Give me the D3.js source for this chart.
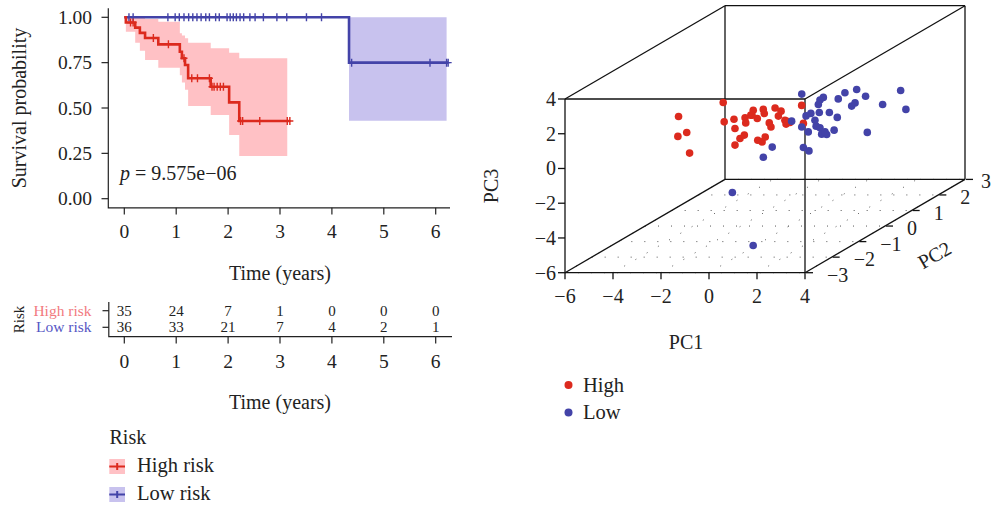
<!DOCTYPE html>
<html lang="en">
<head>
<meta charset="UTF-8">
<title>Survival and PCA</title>
<script src="https://d3js.org/d3.v7.min.js"></script>
<style>
  body { margin: 0; background: #fff; }
  svg { font-family: "Liberation Serif", "DejaVu Serif", serif; fill: #222; }
  .ax { stroke: #222; stroke-width: 1.2px; fill: none; }
  .box { stroke: #111; stroke-width: 1.3px; fill: none; }
  .grid { stroke: #444; stroke-width: 0.9px; stroke-dasharray: 1 12; fill: none; }
</style>
</head>
<body>
<svg width="993" height="506"></svg>
<script>
// ---- Kaplan-Meier data ----
const highTimes = [0, 0.03, 0.21, 0.30, 0.40, 0.655, 1.07, 1.11, 1.17, 1.23, 1.665, 2.02, 2.215];
const highSurv  = [1, 0.971, 0.943, 0.914, 0.886, 0.851, 0.81, 0.774, 0.737, 0.664, 0.617, 0.531, 0.428];
const highUpper = [1, 1, 1, 1, 0.99, 0.975, 0.912, 0.90, 0.885, 0.86, 0.83, 0.805, 0.774];
const highLower = [1, 0.92, 0.86, 0.816, 0.765, 0.722, 0.68, 0.64, 0.60, 0.511, 0.461, 0.351, 0.235];
const highEnd = 3.19, highCiEnd = 3.14;
const highCensor = [0.12, 0.17, 0.56, 0.85, 1.15, 1.30, 1.41, 1.64, 1.69, 1.73, 1.79, 1.85, 1.91, 2.24, 2.28, 2.61, 3.14, 3.19];

const lowTimes = [0, 4.33];
const lowSurv  = [1, 0.75];
const lowUpper = [1, 1];
const lowLower = [1, 0.43];
const lowEnd = 6.24, lowCiEnd = 6.21;
const lowCensor = [0.09, 0.17, 0.84, 0.98, 1.06, 1.15, 1.24, 1.32, 1.40, 1.48, 1.57, 1.64, 1.76, 1.83, 1.98,
  2.04, 2.10, 2.16, 2.23, 2.30, 2.42, 2.52, 2.68, 2.94, 3.13, 3.51, 3.80, 4.38, 5.89, 6.21, 6.24];

const pValue = "9.575e\u221206";
const timeTicks = [0, 1, 2, 3, 4, 5, 6];
const survTicks = [0, 0.25, 0.5, 0.75, 1];
const riskHigh = [35, 24, 7, 1, 0, 0, 0];
const riskLow  = [36, 33, 21, 7, 4, 2, 1];

// ---- PCA data ----
const highPC1 = [-2.38,-3.15,-4.63,-1.92,-1.63,-2.70,-0.07,-1.14,-2.25,0.18,-0.75,-1.83,0.42,-0.48,-1.49,0.90,0.04,
  -1.03,0.92,-0.01,-0.99,1.40,0.36,-0.58,1.78,0.78,-0.17,2.10,1.64,0.60,2.26,-1.54,1.03];
const highPC2 = [-2,-1,0,-2,-1,0,-2,-1,0,-2,-1,0,-2,-1,0,-2,-1,0,-2,-1,0,-2,-1,0,-2,-1,0,-2,-1,0,-2,0,-1];
const highPC3 = [2.10,0.28,-0.84,-0.01,2.01,0.00,1.94,0.51,-1.34,0.83,0.13,0.23,1.73,1.28,0.67,1.98,1.61,
  0.48,0.73,-0.26,-0.87,1.73,0.60,0.80,2.12,1.51,0.09,1.66,1.84,-0.09,1.75,0.38,0.93];
const lowPC1 = [-0.58,0.11,-1.81,-1.07,-2.36,0.73,-0.58,0.60,-0.28,-1.42,0.71,-0.20,-1.00,1.29,0.32,-0.96,1.13,
  0.18,-0.86,1.57,0.39,-0.54,1.88,0.90,-0.17,2.33,1.50,0.53,2.82,2.08,1.04,2.79,2.43,3.76,-0.03];
const lowPC2 = [1,0,1,0,0,-2,1,0,1,2,0,1,2,0,1,2,0,1,2,0,1,2,0,1,2,0,1,2,0,1,2,1,2,1,1];
const lowPC3 = [0.70,0.04,-2.35,-2.04,-4.07,-5.33,-1.19,-1.48,-2.57,-2.37,0.34,-0.41,-0.79,1.25,0.51,-1.25,-0.25,
  -1.24,-2.50,-0.73,-1.47,-1.25,-0.48,-0.64,-0.47,1.67,0.01,-0.70,1.86,0.58,-2.40,0.10,0.01,-0.18,-0.80];
const pc1Ticks = [-6, -4, -2, 0, 2, 4];
const pc2Ticks = [-3, -2, -1, 0, 1, 2, 3];
const pc3Ticks = [-6, -4, -2, 0, 2, 4];

const redLine = "#dc2a1e", redFill = "#ffc1c5", redText = "#f27a80";
const blueLine = "#4343a8", blueFill = "#c8c2ee", blueText = "#5656c4";
const minus = s => String(s).replace("-", "\u2212");

const svg = d3.select("svg");

// ================= KM plot =================
const x = d3.scaleLinear().domain([0, 6]).range([124.3, 435.7]);
const y = d3.scaleLinear().domain([0, 1]).range([198.7, 17.3]);
const km = svg.append("g");

function steps(times, vals, end) {
  const pts = times.map((t, i) => [t, vals[i]]);
  pts.push([end, vals[vals.length - 1]]);
  return pts;
}
const area = d3.area().curve(d3.curveStepAfter)
  .x(d => x(d.t)).y0(d => y(d.lo)).y1(d => y(d.hi));
const line = d3.line().curve(d3.curveStepAfter).x(d => x(d[0])).y(d => y(d[1]));

function band(times, lo, hi, end) {
  const arr = times.map((t, i) => ({t, lo: lo[i], hi: hi[i]}));
  arr.push({t: end, lo: lo[lo.length - 1], hi: hi[hi.length - 1]});
  return arr;
}
km.append("path").attr("d", area(band(highTimes, highLower, highUpper, highCiEnd))).attr("fill", redFill);
km.append("path").attr("d", area(band(lowTimes, lowLower, lowUpper, lowCiEnd))).attr("fill", blueFill);

function survAt(times, vals, t) {
  let v = vals[0];
  times.forEach((tt, i) => { if (tt <= t) v = vals[i]; });
  return v;
}
function drawCurve(times, vals, end, censor, col) {
  km.append("path").attr("d", line(steps(times, vals, end)))
    .attr("fill", "none").attr("stroke", col).attr("stroke-width", 2.6);
  km.append("g").selectAll("path").data(censor).join("path")
    .attr("d", t => {
      const cx = x(t), cy = y(survAt(times, vals, t));
      return `M${cx - 3.5},${cy}H${cx + 3.5}M${cx},${cy - 4}V${cy + 4}`;
    })
    .attr("stroke", col).attr("stroke-width", 1.4);
}
drawCurve(lowTimes, lowSurv, lowEnd, lowCensor, blueLine);
drawCurve(highTimes, highSurv, highEnd, highCensor, redLine);

// axes
km.append("path").attr("class", "ax").attr("d", `M108.3,8.2V207.8H450`);
km.append("g").selectAll("line").data(survTicks).join("line").attr("class", "ax")
  .attr("x1", 101.5).attr("x2", 108.3).attr("y1", d => y(d)).attr("y2", d => y(d));
km.append("g").selectAll("text").data(survTicks).join("text")
  .attr("x", 92).attr("y", d => y(d) + 6.5).attr("text-anchor", "end")
  .attr("font-size", 19.5).text(d => d.toFixed(2));
km.append("g").selectAll("line").data(timeTicks).join("line").attr("class", "ax")
  .attr("x1", d => x(d)).attr("x2", d => x(d)).attr("y1", 207.8).attr("y2", 214.6);
km.append("g").selectAll("text").data(timeTicks).join("text")
  .attr("x", d => x(d)).attr("y", 237.5).attr("text-anchor", "middle")
  .attr("font-size", 19.5).text(d => d);
km.append("text").attr("x", x(3)).attr("y", 280).attr("text-anchor", "middle")
  .attr("font-size", 20).text("Time (years)");
km.append("text").attr("transform", "translate(26,108) rotate(-90)").attr("text-anchor", "middle")
  .attr("font-size", 20).text("Survival probability");
const pt = km.append("text").attr("x", 120).attr("y", 180).attr("font-size", 20);
pt.append("tspan").attr("font-style", "italic").text("p");
pt.append("tspan").text(" = " + pValue);

// ---- risk table ----
const rowY = [310.7, 327.3];
const rt = svg.append("g");
rt.append("path").attr("class", "ax").attr("d", `M108.8,302V336.7H452`);
rt.append("g").selectAll("line").data(rowY).join("line").attr("class", "ax")
  .attr("x1", 102.5).attr("x2", 108.8).attr("y1", d => d).attr("y2", d => d);
[[riskHigh, "High risk", redText], [riskLow, "Low risk", blueText]].forEach(([vals, lab, col], r) => {
  rt.append("g").selectAll("text").data(vals).join("text")
    .attr("x", (d, i) => x(timeTicks[i])).attr("y", rowY[r] + 5).attr("text-anchor", "middle")
    .attr("font-size", 15).text(d => d);
  rt.append("text").attr("x", 91.5).attr("y", rowY[r] + 5).attr("text-anchor", "end")
    .attr("font-size", 15.5).attr("fill", col).text(lab);
});
rt.append("text").attr("transform", "translate(24,319.5) rotate(-90)").attr("text-anchor", "middle")
  .attr("font-size", 15).text("Risk");
rt.append("g").selectAll("line").data(timeTicks).join("line").attr("class", "ax")
  .attr("x1", d => x(d)).attr("x2", d => x(d)).attr("y1", 336.7).attr("y2", 343.5);
rt.append("g").selectAll("text").data(timeTicks).join("text")
  .attr("x", d => x(d)).attr("y", 367.5).attr("text-anchor", "middle")
  .attr("font-size", 19.5).text(d => d);
rt.append("text").attr("x", x(3)).attr("y", 408.5).attr("text-anchor", "middle")
  .attr("font-size", 20).text("Time (years)");

// ---- KM legend ----
const lg = svg.append("g");
lg.append("text").attr("x", 109.5).attr("y", 444).attr("font-size", 20).text("Risk");
[["High risk", redFill, redLine, 466.5], ["Low risk", blueFill, blueLine, 494.5]].forEach(([lab, f, c, cy]) => {
  lg.append("rect").attr("x", 109.3).attr("y", cy - 7.5).attr("width", 15.7).attr("height", 15).attr("fill", f);
  lg.append("path").attr("d", `M109.3,${cy}H125M117.2,${cy - 3.5}V${cy + 3.5}`)
    .attr("stroke", c).attr("stroke-width", 2);
  lg.append("text").attr("x", 137).attr("y", cy + 5).attr("font-size", 20.5).text(lab);
});

// ================= 3D PCA scatter =================
const xs = d3.scaleLinear().domain([-6, 4]).range([565, 805]);
const zs = d3.scaleLinear().domain([-6, 4]).range([272.7, 99]);
const ds = d3.scaleLinear().domain([-3, 3]).range([0, 1]);
const DX = 160, DY = -93.3;
const proj = (a, b, c) => [xs(a) + DX * ds(b), zs(c) + DY * ds(b)];
const g3 = svg.append("g");
const seg = (p, q) => `M${p[0]},${p[1]}L${q[0]},${q[1]}`;

// floor grid
pc1Ticks.forEach(t => g3.append("path").attr("class", "grid").attr("d", seg(proj(t, -3, -6), proj(t, 3, -6))));
pc2Ticks.forEach(t => g3.append("path").attr("class", "grid").attr("d", seg(proj(-6, t, -6), proj(4, t, -6))));

// box
const X0 = -6, X1 = 4, Y0 = -3, Y1 = 3, Z0 = -6, Z1 = 4;
const edges = [
  [[X0,Y0,Z0],[X1,Y0,Z0]], [[X0,Y0,Z1],[X1,Y0,Z1]], [[X0,Y0,Z0],[X0,Y0,Z1]], [[X1,Y0,Z0],[X1,Y0,Z1]],
  [[X0,Y1,Z1],[X1,Y1,Z1]], [[X0,Y1,Z0],[X1,Y1,Z0]], [[X0,Y1,Z0],[X0,Y1,Z1]], [[X1,Y1,Z0],[X1,Y1,Z1]],
  [[X0,Y0,Z0],[X0,Y1,Z0]], [[X1,Y0,Z0],[X1,Y1,Z0]], [[X0,Y0,Z1],[X0,Y1,Z1]], [[X1,Y0,Z1],[X1,Y1,Z1]]
];
edges.forEach(([p, q]) => g3.append("path").attr("class", "box").attr("d", seg(proj(...p), proj(...q))));

// points
const pts = [];
highPC1.forEach((v, i) => pts.push({p: proj(v, highPC2[i], highPC3[i]), c: redLine}));
lowPC1.forEach((v, i) => pts.push({p: proj(v, lowPC2[i], lowPC3[i]), c: blueLine}));
g3.append("g").selectAll("circle").data(pts).join("circle")
  .attr("cx", d => d.p[0]).attr("cy", d => d.p[1]).attr("r", 3.8).attr("fill", d => d.c);

// PC1 axis
pc1Ticks.forEach(t => {
  const p = proj(t, -3, -6);
  g3.append("path").attr("class", "box").attr("d", `M${p[0]},${p[1]}V${p[1] + 6.5}`);
  g3.append("text").attr("x", p[0]).attr("y", 303).attr("text-anchor", "middle")
    .attr("font-size", 20).text(minus(t));
});
g3.append("text").attr("x", 686).attr("y", 349).attr("text-anchor", "middle").attr("font-size", 20).text("PC1");
// PC3 axis
pc3Ticks.forEach(t => {
  const p = proj(-6, -3, t);
  g3.append("path").attr("class", "box").attr("d", `M${p[0]},${p[1]}H${p[0] - 7}`);
  g3.append("text").attr("x", 556).attr("y", p[1] + 7).attr("text-anchor", "end")
    .attr("font-size", 20).text(minus(t));
});
g3.append("text").attr("transform", "translate(498,186) rotate(-90)").attr("text-anchor", "middle")
  .attr("font-size", 20).text("PC3");
// PC2 axis
pc2Ticks.forEach(t => {
  const p = proj(4, t, -6);
  g3.append("path").attr("class", "box").attr("d", `M${p[0] + 1},${p[1]}H${p[0] + 8}`);
  g3.append("text").attr("x", p[0] + (t === 3 ? 16 : 22)).attr("y", p[1] + 9).attr("text-anchor", "start")
    .attr("font-size", 20).text(minus(t));
});
g3.append("text").attr("transform", "translate(938,261) rotate(-30)").attr("text-anchor", "middle")
  .attr("font-size", 20).text("PC2");

// legend
[["High", redLine, 385], ["Low", blueLine, 412.5]].forEach(([lab, c, cy]) => {
  g3.append("circle").attr("cx", 568.5).attr("cy", cy).attr("r", 4).attr("fill", c);
  g3.append("text").attr("x", 583).attr("y", cy + 6.5).attr("font-size", 20.5).text(lab);
});
</script>
</body>
</html>
